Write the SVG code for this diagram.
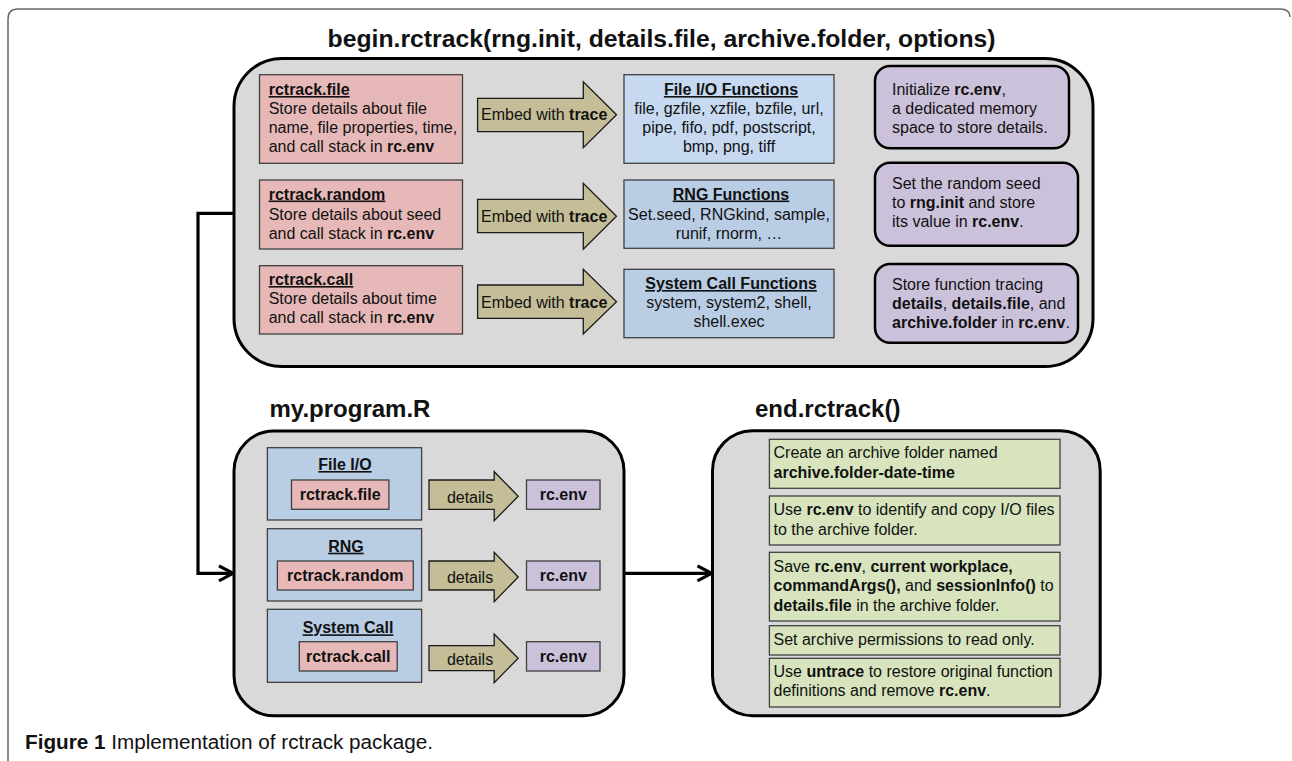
<svg xmlns="http://www.w3.org/2000/svg" width="1292" height="761" viewBox="0 0 1292 761">
<style>
text{font-family:"Liberation Sans",Arial,sans-serif;font-size:16px;fill:#111}
.b{font-weight:bold}
.u{text-decoration:underline}
.h{font-size:24px;font-weight:bold}
.m{text-anchor:middle}
.panel{fill:#d9d9d9;stroke:#000;stroke-width:3}
.red{fill:#e6b9b8;stroke:#404040;stroke-width:1.3}
.blue{fill:#b9cde5;stroke:#404040;stroke-width:1.3}
.blue1{fill:#c6d9f1;stroke:#404040;stroke-width:1.3}
.pur{fill:#ccc1da;stroke:#000;stroke-width:2.5}
.pur2{fill:#ccc1da;stroke:#404040;stroke-width:1.3}
.arr{fill:#c4bd97;stroke:#1a1a1a;stroke-width:1.3}
.green{fill:#d7e4bd;stroke:#404040;stroke-width:1.3}
.conn{fill:none;stroke:#000;stroke-width:3.2}
</style>
<defs>
<marker id="chev" viewBox="0 0 18 18" refX="16" refY="9" markerWidth="18" markerHeight="18" markerUnits="userSpaceOnUse" orient="auto">
<path d="M2,1.5 L16,9 L2,16.5" fill="none" stroke="#000" stroke-width="3.2"/>
</marker>
</defs>
<rect width="1292" height="761" fill="#fff"/>
<path d="M8,761 V19 Q8,9 18,9 H1280 Q1290,9 1290,17" fill="none" stroke="#666" stroke-width="1.5"/>

<g id="title-begin"><text class="h m" x="661.6" y="47" textLength="668" lengthAdjust="spacingAndGlyphs">begin.rctrack(rng.init, details.file,  archive.folder,  options)</text></g>

<g id="begin-panel">
<rect class="panel" x="234" y="58.5" width="859" height="308" rx="48"/>
</g>

<g id="rctrack-file">
<rect class="red" x="259.5" y="74.7" width="203" height="88.6"/>
<text class="b u" x="268.7" y="95">rctrack.file</text>
<text x="268.7" y="113.5">Store details about file</text>
<text x="268.7" y="133">name, file properties, time,</text>
<text x="268.7" y="152">and call stack in <tspan class="b">rc.env</tspan></text>
</g>
<g id="rctrack-random">
<rect class="red" x="259.5" y="180" width="203" height="69"/>
<text class="b u" x="268.7" y="199.5">rctrack.random</text>
<text x="268.7" y="220">Store details about seed</text>
<text x="268.7" y="238.5">and call stack in <tspan class="b">rc.env</tspan></text>
</g>
<g id="rctrack-call">
<rect class="red" x="259.5" y="265.7" width="203" height="68.3"/>
<text class="b u" x="268.7" y="285">rctrack.call</text>
<text x="268.7" y="304">Store details about time</text>
<text x="268.7" y="323.3">and call stack in <tspan class="b">rc.env</tspan></text>
</g>

<g id="embed-1">
<polygon class="arr" points="477.6,98.3 583.3,98.3 583.3,81.7 616.5,114.7 583.3,147.7 583.3,131.7 477.6,131.7"/>
<text x="481" y="120">Embed with <tspan class="b">trace</tspan></text>
</g>
<g id="embed-2">
<polygon class="arr" points="477.6,199.3 583.3,199.3 583.3,183.3 616.5,216.3 583.3,249.3 583.3,232.7 477.6,232.7"/>
<text x="481" y="221.5">Embed with <tspan class="b">trace</tspan></text>
</g>
<g id="embed-3">
<polygon class="arr" points="477.6,285 583.3,285 583.3,269.3 616.5,301.7 583.3,334 583.3,318.3 477.6,318.3"/>
<text x="481" y="307.5">Embed with <tspan class="b">trace</tspan></text>
</g>

<g id="fileio-functions">
<rect class="blue1" x="624" y="74.7" width="210" height="88.6"/>
<text class="b u m" x="731" y="95">File I/O Functions</text>
<text class="m" x="729" y="113.5">file, gzfile, xzfile, bzfile, url,</text>
<text class="m" x="729" y="133">pipe, fifo, pdf, postscript,</text>
<text class="m" x="729" y="152">bmp, png, tiff</text>
</g>
<g id="rng-functions">
<rect class="blue" x="624" y="180" width="210" height="68.3"/>
<text class="b u m" x="731" y="199.5">RNG Functions</text>
<text class="m" x="729" y="220">Set.seed, RNGkind, sample,</text>
<text class="m" x="729" y="238.5">runif, rnorm, …</text>
</g>
<g id="syscall-functions">
<rect class="blue" x="624" y="269.3" width="210" height="68.4"/>
<text class="b u m" x="731" y="289">System Call Functions</text>
<text class="m" x="729" y="308">system, system2, shell,</text>
<text class="m" x="729" y="326.7">shell.exec</text>
</g>

<g id="init-env">
<rect class="pur" x="875" y="66" width="194" height="82.3" rx="15"/>
<text x="892" y="95">Initialize <tspan class="b">rc.env</tspan>,</text>
<text x="892" y="113.5">a dedicated memory</text>
<text x="892" y="133">space to store details.</text>
</g>
<g id="set-seed">
<rect class="pur" x="875" y="162.7" width="203" height="83" rx="15"/>
<text x="892" y="188.5">Set the random seed</text>
<text x="892" y="207.5">to <tspan class="b">rng.init</tspan> and store</text>
<text x="892" y="226.7">its value in <tspan class="b">rc.env</tspan>.</text>
</g>
<g id="store-tracing">
<rect class="pur" x="875" y="264" width="203" height="78.7" rx="15"/>
<text x="892" y="290">Store function tracing</text>
<text x="892" y="308.5"><tspan class="b">details</tspan>, <tspan class="b">details.file</tspan>, and</text>
<text x="892" y="328.3"><tspan class="b">archive.folder</tspan> in <tspan class="b">rc.env</tspan>.</text>
</g>

<g id="title-program"><text class="h" x="269.5" y="416.7">my.program.R</text></g>
<g id="title-end"><text class="h" x="755" y="416.7">end.rctrack()</text></g>

<g id="program-panel">
<rect class="panel" x="234" y="431" width="390" height="284.7" rx="40"/>
</g>

<g id="prog-fileio">
<rect class="blue" x="267.4" y="447.7" width="154.2" height="72.3"/>
<text class="b u m" x="345" y="470">File I/O</text>
<rect class="red" x="291.5" y="480" width="97.4" height="29.3"/>
<text class="b m" x="340.2" y="499.5">rctrack.file</text>
</g>
<g id="prog-rng">
<rect class="blue" x="267.4" y="528.7" width="154.2" height="72.3"/>
<text class="b u m" x="346" y="551.7">RNG</text>
<rect class="red" x="277.4" y="561" width="135.9" height="29"/>
<text class="b m" x="345.3" y="580.7">rctrack.random</text>
</g>
<g id="prog-syscall">
<rect class="blue" x="267.4" y="609.3" width="154.2" height="73"/>
<text class="b u m" x="348" y="633.3">System Call</text>
<rect class="red" x="299.3" y="641.7" width="97.9" height="29.3"/>
<text class="b m" x="348.2" y="661.7">rctrack.call</text>
</g>

<g id="details-1">
<polygon class="arr" points="429,480 494.2,480 494.2,471.7 518.2,496.2 494.2,520.7 494.2,509.3 429,509.3"/>
<text class="m" x="470" y="502.7">details</text>
</g>
<g id="details-2">
<polygon class="arr" points="429,561 494.2,561 494.2,552.3 518.2,577 494.2,601.7 494.2,590 429,590"/>
<text class="m" x="470" y="583.3">details</text>
</g>
<g id="details-3">
<polygon class="arr" points="429,645.7 494.2,645.7 494.2,634 518.2,658.3 494.2,682.7 494.2,670.7 429,670.7"/>
<text class="m" x="470" y="665">details</text>
</g>

<g id="rcenv-1">
<rect class="pur2" x="526.5" y="480" width="73.5" height="29.3"/>
<text class="b m" x="563.3" y="499.5">rc.env</text>
</g>
<g id="rcenv-2">
<rect class="pur2" x="526.5" y="561" width="73.5" height="29"/>
<text class="b m" x="563.3" y="580.7">rc.env</text>
</g>
<g id="rcenv-3">
<rect class="pur2" x="526.5" y="641.7" width="73.5" height="29.3"/>
<text class="b m" x="563.3" y="661.7">rc.env</text>
</g>

<g id="end-panel">
<rect class="panel" x="712.5" y="430.7" width="387.7" height="285" rx="40"/>
</g>
<g id="step-create">
<rect class="green" x="769.4" y="439.3" width="290.6" height="49"/>
<text x="773.5" y="458.3">Create an archive folder named</text>
<text x="773.5" y="477.7" class="b">archive.folder-date-time</text>
</g>
<g id="step-copy">
<rect class="green" x="769.4" y="496" width="290.6" height="49"/>
<text x="773.5" y="515">Use <tspan class="b">rc.env</tspan> to identify and copy I/O files</text>
<text x="773.5" y="535">to the archive folder.</text>
</g>
<g id="step-save">
<rect class="green" x="769.4" y="552.3" width="290.6" height="68.7"/>
<text x="773.5" y="571.7">Save <tspan class="b">rc.env</tspan>, <tspan class="b">current workplace,</tspan></text>
<text x="773.5" y="591"><tspan class="b">commandArgs(),</tspan> and <tspan class="b">sessionInfo()</tspan> to</text>
<text x="773.5" y="610.7"><tspan class="b">details.file</tspan> in the archive folder.</text>
</g>
<g id="step-perm">
<rect class="green" x="769.4" y="625.7" width="290.6" height="29.3"/>
<text x="773.5" y="645">Set archive permissions to read only.</text>
</g>
<g id="step-untrace">
<rect class="green" x="769.4" y="658.3" width="290.6" height="48.7"/>
<text x="773.5" y="676.7">Use <tspan class="b">untrace</tspan> to restore original function</text>
<text x="773.5" y="696">definitions and remove <tspan class="b">rc.env</tspan>.</text>
</g>

<g id="connectors">
<path class="conn" d="M234,213.3 H198 V573.3 H233" marker-end="url(#chev)"/>
<path class="conn" d="M624,573.3 H711.5" marker-end="url(#chev)"/>
</g>

<g id="caption"><text x="25" y="749" style="font-size:20px" textLength="408" lengthAdjust="spacingAndGlyphs"><tspan class="b">Figure 1</tspan> Implementation of rctrack package.</text></g>
</svg>
